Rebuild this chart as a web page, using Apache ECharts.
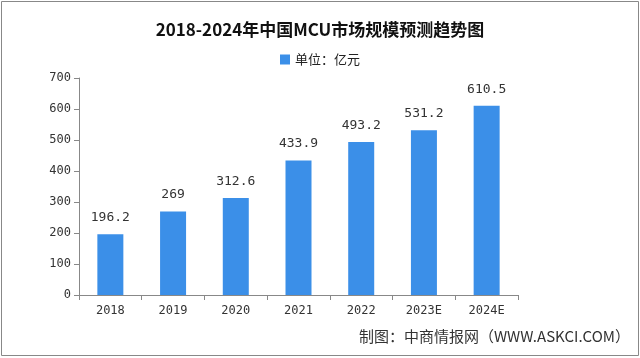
<!DOCTYPE html>
<html><head><meta charset="utf-8">
<script src="https://cdn.jsdelivr.net/npm/echarts@6/dist/echarts.min.js"></script>
<style>html,body{margin:0;padding:0;background:#fff}#c{width:640px;height:358px}</style>
</head><body><div id="c"></div>
<script>
const categories = ['2018','2019','2020','2021','2022','2023E','2024E'];
const values = [196.2, 269, 312.6, 433.9, 493.2, 531.2, 610.5];
const labels = ['196.2','269','312.6','433.9','493.2','531.2','610.5'];
const yTicks = [0,100,200,300,400,500,600,700];

const chart = echarts.init(document.getElementById('c'));
chart.setOption({
  animation:false,
  backgroundColor:'#fff',
  title:{text:'2018-2024年中国MCU市场规模预测趋势图',left:'center',top:16,
    textStyle:{fontFamily:'Noto Sans CJK SC',fontWeight:'bold',fontSize:17,color:'#111'}},
  legend:{data:['单位：亿元'],top:48,left:'center',icon:'rect',itemWidth:10,itemHeight:10,itemGap:4,
    textStyle:{fontFamily:'Noto Sans CJK SC',fontSize:13,color:'#222'}},
  grid:{left:79,right:122,top:78,bottom:63},
  xAxis:{type:'category',data:categories,
    axisLine:{lineStyle:{color:'#888'}},
    axisTick:{show:true,lineStyle:{color:'#888'}},
    axisLabel:{color:'#333',fontSize:12,fontFamily:'DejaVu Sans Mono',margin:10}},
  yAxis:{type:'value',min:0,max:700,interval:100,
    axisLine:{show:true,lineStyle:{color:'#888'}},
    axisTick:{show:true,lineStyle:{color:'#888'}},
    splitLine:{show:false},
    axisLabel:{color:'#333',fontSize:12,fontFamily:'DejaVu Sans Mono',margin:8,
      formatter:v=>yTicks.includes(v)?String(v):''}},
  series:[{name:'单位：亿元',type:'bar',data:values,barWidth:26,
    itemStyle:{color:'#3b8fe8'},
    label:{show:true,position:'top',distance:10,color:'#333',fontSize:13,fontFamily:'DejaVu Sans Mono',
      formatter:p=>labels[p.dataIndex]}}],
  graphic:[
    {type:'rect',shape:{x:1.5,y:1.5,width:637,height:354},style:{fill:'none',stroke:'#888',lineWidth:1}},
    {type:'text',right:10,bottom:14,style:{text:'制图：中商情报网（WWW.ASKCI.COM）',fill:'#333',fontSize:15,fontFamily:'Noto Sans CJK SC'}}
  ]
});
</script></body></html>
